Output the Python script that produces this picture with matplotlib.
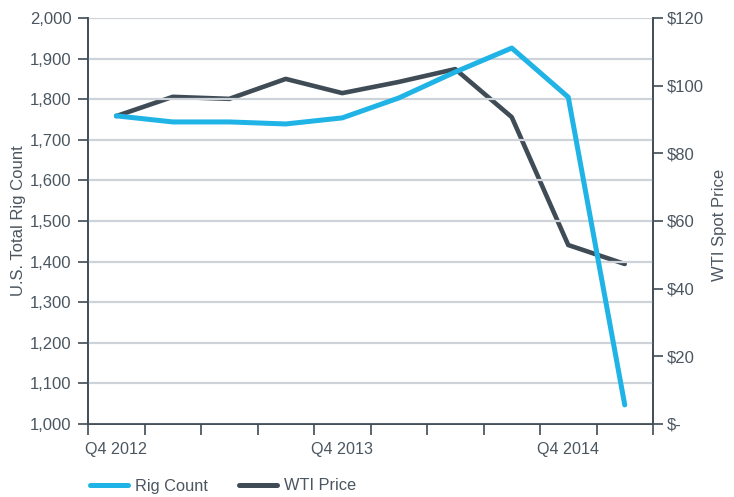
import matplotlib
matplotlib.use("Agg")
import matplotlib.pyplot as plt
from matplotlib.ticker import FuncFormatter, FixedLocator
from matplotlib.lines import Line2D

# Data (quarterly, Q4 2012 .. Q1 2015)
quarters = ["Q4 2012", "Q1 2013", "Q2 2013", "Q3 2013", "Q4 2013",
            "Q1 2014", "Q2 2014", "Q3 2014", "Q4 2014", "Q1 2015"]
rig_count = [1759, 1744, 1744, 1739, 1754, 1803, 1867, 1926, 1805, 1047]
wti_price = [91.0, 96.7, 96.1, 102.0, 97.8, 101.1, 104.9, 90.7, 52.9, 47.3]
shown_labels = ["Q4 2012", "Q4 2013", "Q4 2014"]

blue = "#1FB3E6"
dark = "#3F4C56"
text_c = "#4B5660"
grid_c = "#CDD3D9"
bg = "#E8EBEE"

plt.rcParams["font.family"] = ["Liberation Sans", "DejaVu Sans"]
plt.rcParams["font.size"] = 11.5

fig = plt.figure(figsize=(7.34, 4.97), dpi=100)
ax = fig.add_axes([88 / 734, 73 / 497, 565 / 734, 406 / 497])
ax2 = ax.twinx()

x = list(range(len(quarters)))

# WTI on the right axis, underneath
ax2.set_facecolor(bg)
ax2.plot(x, wti_price, color=dark, lw=3.3, solid_capstyle="round")
ax2.set_ylim(0, 120)
ax2.set_yticks(range(0, 121, 20))
ax2.yaxis.set_major_formatter(FuncFormatter(lambda v, p: "$-" if v == 0 else f"${v:.0f}"))
ax2.set_ylabel("WTI Spot Price", color=text_c, fontsize=12)
ax2.yaxis.set_label_coords(1.104, 0.49)

# Rig count on the left axis, on top
ax.set_zorder(ax2.get_zorder() + 1)
ax.patch.set_visible(False)
ax.plot(x, rig_count, color=blue, lw=3.6, solid_capstyle="round")
ax.set_ylim(1000, 2000)
ax.set_yticks(range(1000, 2001, 100))
ax.yaxis.set_major_formatter(FuncFormatter(lambda v, p: f"{v:,.0f}"))
ax.set_ylabel("U.S. Total Rig Count", color=text_c, fontsize=12)
ax.yaxis.set_label_coords(-0.109, 0.5)
ax.grid(axis="y", color=grid_c, lw=1.6)
ax.set_axisbelow(True)

ax.set_xlim(-0.5, len(quarters) - 0.5)
ax.xaxis.set_major_locator(FixedLocator([i - 0.5 for i in range(len(quarters) + 1)]))
ax.set_xticklabels([])
pos = [quarters.index(q) for q in shown_labels]
ax.xaxis.set_minor_locator(FixedLocator(pos))
ax.set_xticklabels(shown_labels, minor=True)
ax.tick_params(axis="x", which="major", length=8, width=1.2, color=dark)
ax.tick_params(axis="x", which="minor", length=0, pad=13, labelcolor=text_c, labelsize=11.6)

for a in (ax, ax2):
    a.spines["top"].set_visible(False)
    for s in ("left", "right", "bottom"):
        a.spines[s].set_color(dark)
        a.spines[s].set_linewidth(1.2)
ax.tick_params(axis="y", length=7, width=1.2, color=dark, labelcolor=text_c, labelsize=12, pad=5)
ax2.tick_params(axis="y", length=7, width=1.2, color=dark, labelcolor=text_c, labelsize=12, pad=3)

handles = [Line2D([], [], color=blue, lw=3.6, solid_capstyle="round"),
           Line2D([], [], color=dark, lw=3.6, solid_capstyle="round")]
leg = fig.legend(handles, ["Rig Count", "WTI Price"], loc="center left",
                 bbox_to_anchor=(90 / 734, 11 / 497), ncol=2, frameon=False,
                 borderpad=0, borderaxespad=0, handlelength=2.3, handletextpad=0.45,
                 columnspacing=1.9, fontsize=11.8)
for t in leg.get_texts():
    t.set_color(text_c)

fig.savefig("out.png", dpi=100)
